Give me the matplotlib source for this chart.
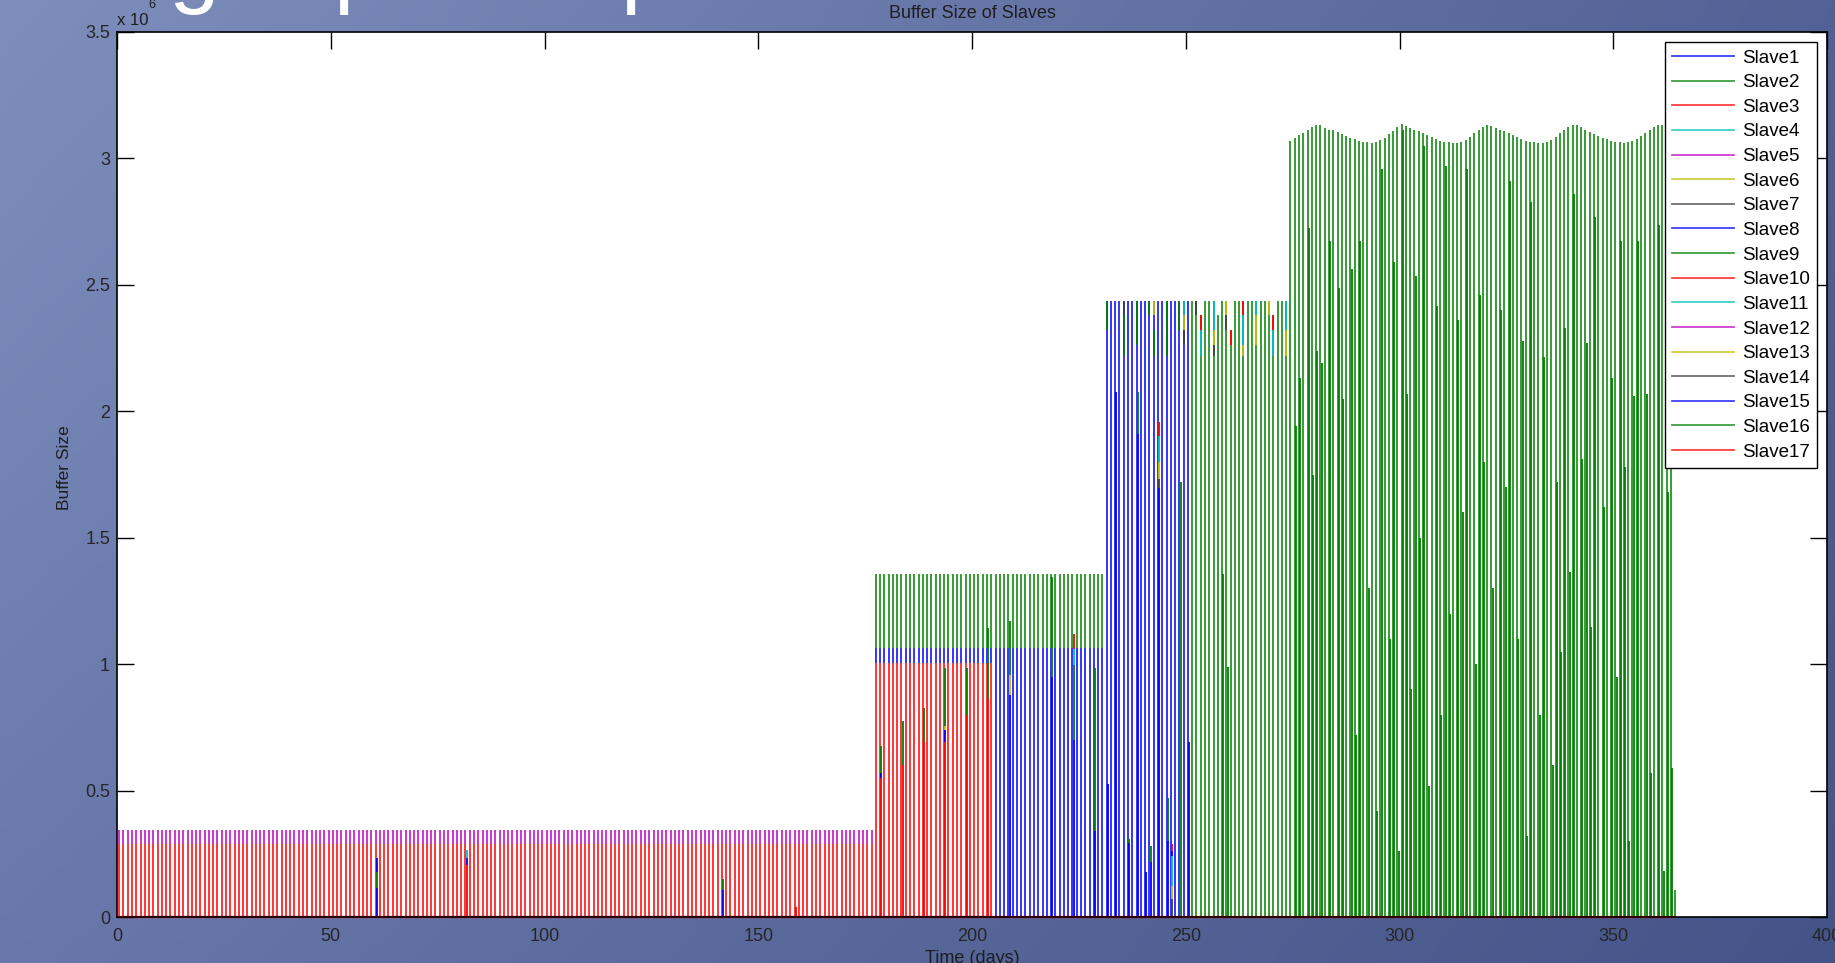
import matplotlib
matplotlib.use("Agg")
import matplotlib.pyplot as plt
from matplotlib.lines import Line2D
import numpy as np

plt.rcParams["font.family"] = ["Liberation Sans", "DejaVu Sans"]

# ---- data (buffer sizes in units of 1e6) ---------------------------------
SLAVES = [f"Slave{i}" for i in range(1, 18)]
# old MATLAB colour order b, g, r, c, m, y, k repeated
SLAVE_COLORS = ["#0000ff", "#008000", "#ff0000", "#00bfbf", "#bf00bf", "#bfbf00", "#404040",
                "#0000ff", "#008000", "#ff0000", "#00bfbf", "#bf00bf", "#bfbf00", "#404040",
                "#0000ff", "#008000", "#ff0000"]

# day ranges of the regimes and the stacked layers (slave, layer top) in each
PHASE_FIRST = [0, 177, 205, 231, 251]
PHASE_LAST = [176, 204, 230, 250, 273]
PHASE_LAYERS = [
    [(3, 0.290), (5, 0.345)],
    [(3, 1.005), (8, 1.065), (9, 1.355)],
    [(8, 1.065), (9, 1.355)],
    [(8, 2.435)],
    [(9, 2.435)],
]

# last regime: one green slave, daily peaks (days 274..363)
WAVE_FIRST = 274
WAVE_SLAVE = 16
WAVE_TOPS = [
    3.070, 3.080, 3.092, 3.102, 3.114, 3.126, 3.134,
    3.132, 3.122, 3.114, 3.112, 3.105, 3.098, 3.088, 3.082, 3.075, 3.070,
    3.066, 3.063, 3.062, 3.066, 3.072, 3.082, 3.096, 3.110, 3.126, 3.138,
    3.130, 3.122, 3.114, 3.108, 3.100, 3.092, 3.084, 3.076, 3.070, 3.066,
    3.064, 3.062, 3.062, 3.066, 3.074, 3.086, 3.100, 3.114, 3.126, 3.134,
    3.130, 3.122, 3.114, 3.108, 3.100, 3.092, 3.084, 3.076, 3.070, 3.066,
    3.064, 3.062, 3.062, 3.066, 3.074, 3.086, 3.100, 3.114, 3.126, 3.134,
    3.132, 3.124, 3.114, 3.106, 3.098, 3.090, 3.082, 3.076, 3.070, 3.066,
    3.064, 3.062, 3.064, 3.068, 3.076, 3.088, 3.100, 3.114, 3.126, 3.134,
    3.134, 3.126, 3.118,
]
LAST_DAY = 364
LAST_DAY_TOP = 0.105

# days whose bar stops short of the regime level
SHORT_DAYS = [253, 257, 260, 270]
SHORT_TOPS = [2.380, 2.380, 2.321, 2.380]

# coloured pieces at the top of the 2.4e6 bars
SEG_DAYS = [231, 235, 235, 238, 241, 242, 242, 245, 248, 249, 249, 249, 252, 253, 253,
            256, 256, 256, 259, 259, 260, 263, 263, 263, 266, 266, 269, 270, 270, 273, 273]
SEG_SLAVES = [9, 14, 9, 9, 9, 13, 9, 9, 9, 11, 13, 14, 14, 17, 11,
              11, 13, 14, 13, 14, 17, 17, 11, 13, 11, 13, 13, 17, 11, 11, 13]
SEG_BOTTOMS = [2.321, 2.380, 2.218, 2.262, 2.380, 2.380, 2.218, 2.218, 2.321, 2.380, 2.321,
               2.262, 2.380, 2.321, 2.218, 2.321, 2.262, 2.218, 2.380, 2.321, 2.262, 2.380,
               2.262, 2.218, 2.380, 2.262, 2.380, 2.321, 2.218, 2.321, 2.218]
SEG_TOPS = [2.435, 2.435, 2.380, 2.435, 2.435, 2.435, 2.321, 2.435, 2.435, 2.435, 2.380,
            2.321, 2.435, 2.380, 2.321, 2.435, 2.321, 2.262, 2.435, 2.380, 2.321, 2.435,
            2.380, 2.262, 2.435, 2.380, 2.435, 2.380, 2.321, 2.435, 2.321]

# second (darker) spikes next to the daily bar, stacked from zero
EXTRA_DAYS = [60, 81, 141, 158, 178, 183, 188, 193, 198, 203, 208, 218, 223, 228,
              231, 233, 236, 238, 240, 241, 243, 245, 246, 248, 250, 258, 259]
EXTRA_STACKS = [
    [(8, 0.115), (9, 0.179), (15, 0.233)],
    [(3, 0.207), (8, 0.233), (11, 0.265)],
    [(8, 0.107), (9, 0.150)],
    [(3, 0.040)],
    [(3, 0.550), (8, 0.568), (9, 0.676)],
    [(3, 0.600), (9, 0.777)],
    [(3, 0.694), (9, 0.826)],
    [(3, 0.694), (8, 0.741), (13, 0.754), (16, 0.984)],
    [(3, 0.800), (9, 0.984)],
    [(3, 0.862), (9, 1.142)],
    [(8, 0.878), (13, 0.957), (16, 1.172)],
    [(8, 0.950), (9, 1.344)],
    [(8, 0.699), (9, 0.995), (11, 1.060), (17, 1.120)],
    [(8, 0.339), (9, 0.984)],
    [(8, 0.526)],
    [(8, 2.077)],
    [(8, 0.291), (9, 0.310)],
    [(8, 1.912), (9, 2.077)],
    [(8, 0.177)],
    [(8, 0.219), (9, 0.281)],
    [(8, 1.695), (14, 1.732), (13, 1.800), (11, 1.902), (17, 1.958)],
    [(8, 0.301), (9, 0.472)],
    [(7, 0.070), (13, 0.122), (11, 0.240), (8, 0.260), (10, 0.290)],
    [(9, 1.720)],
    [(8, 0.693)],
    [(9, 1.356)],
    [(9, 0.987)],
]

# darker green spikes in the last regime
DARK_DAYS = [275, 276, 278, 279, 280, 281, 283, 285, 286, 288,
             289, 290, 292, 294, 295, 297, 298, 299, 300, 301,
             302, 303, 304, 305, 306, 308, 309, 310, 311, 313,
             314, 315, 317, 318, 319, 321, 323, 324, 325, 327,
             328, 329, 330, 332, 333, 335, 336, 337, 338, 339,
             340, 342, 343, 344, 345, 347, 349, 350, 351, 352,
             353, 354, 355, 357, 358, 360, 361, 362, 363]
DARK_TOPS = [1.940, 2.130, 2.723, 1.748, 2.238, 2.190, 2.673, 2.486, 2.050, 2.562,
             0.720, 2.673, 1.300, 0.420, 2.958, 1.100, 2.591, 0.260, 3.114, 2.070,
             0.900, 2.536, 1.500, 3.049, 0.520, 2.416, 0.800, 2.972, 1.200, 2.360,
             1.600, 2.958, 1.000, 2.460, 1.800, 1.300, 2.400, 1.700, 2.911, 1.100,
             2.279, 0.320, 2.826, 0.800, 2.213, 0.600, 1.720, 1.049, 2.328, 1.365,
             2.860, 1.810, 2.272, 1.148, 2.770, 1.620, 2.130, 0.950, 2.673, 1.780,
             0.300, 2.060, 2.673, 2.070, 0.570, 2.735, 0.180, 1.680, 0.590]

X_TICKS = [0, 50, 100, 150, 200, 250, 300, 350, 400]
Y_TICKS = [0, 0.5, 1, 1.5, 2, 2.5, 3, 3.5]
Y_TICK_LABELS = ["0", "0.5", "1", "1.5", "2", "2.5", "3", "3.5"]

# ---- figure -----------------------------------------------------------------
W, H = 1835, 963
fig = plt.figure(figsize=(W / 100, H / 100), dpi=100)

# slide background: blue gradient, lighter top-left
bg = fig.add_axes([0, 0, 1, 1], zorder=-10)
gy, gx = np.mgrid[0:1:200j, 0:1:400j]
tl, tr = np.array([126, 142, 188]), np.array([82, 98, 150])
bl, br = np.array([104, 120, 170]), np.array([68, 84, 136])
grad = (tl * ((1 - gx) * (1 - gy))[..., None] + tr * (gx * (1 - gy))[..., None]
        + bl * ((1 - gx) * gy)[..., None] + br * (gx * gy)[..., None]) / 255.0
bg.imshow(grad, aspect="auto", extent=[0, 1, 0, 1], origin="upper")
bg.axis("off")

ax = fig.add_axes([117 / W, 46 / H, 1710 / W, 885 / H])
ax.set_facecolor("white")

LW = 1.3
ALPHA = 0.85
OFFSET = 0.5
SIDE = 0.3


def draw_stack(x, layers, cap=None):
    xs, lo, hi, cols = [], [], [], []
    bottom = 0.0
    for slave, top in layers:
        if cap is not None:
            top = min(top, cap)
        if top > bottom:
            xs.append(x)
            lo.append(bottom)
            hi.append(top)
            cols.append(SLAVE_COLORS[slave - 1])
            bottom = top
    return xs, lo, hi, cols


short = dict(zip(SHORT_DAYS, SHORT_TOPS))
px, plo, phi, pcol = [], [], [], []
for first, last, layers in zip(PHASE_FIRST, PHASE_LAST, PHASE_LAYERS):
    for day in range(first, last + 1):
        a, b, c, d = draw_stack(day + OFFSET, layers, short.get(day))
        px += a; plo += b; phi += c; pcol += d
for i, top in enumerate(WAVE_TOPS):
    px.append(WAVE_FIRST + i + OFFSET); plo.append(0); phi.append(top)
    pcol.append(SLAVE_COLORS[WAVE_SLAVE - 1])
px.append(LAST_DAY + OFFSET); plo.append(0); phi.append(LAST_DAY_TOP)
pcol.append(SLAVE_COLORS[WAVE_SLAVE - 1])
ax.vlines(px, plo, phi, colors=pcol, linewidth=LW, alpha=ALPHA, zorder=3)

ax.vlines([d + OFFSET for d in SEG_DAYS], SEG_BOTTOMS, SEG_TOPS,
          colors=[SLAVE_COLORS[s - 1] for s in SEG_SLAVES], linewidth=LW, zorder=3)

ex, elo, ehi, ecol = [], [], [], []
for day, stack in zip(EXTRA_DAYS, EXTRA_STACKS):
    a, b, c, d = draw_stack(day + OFFSET + SIDE, stack)
    ex += a; elo += b; ehi += c; ecol += d
ax.vlines(ex, elo, ehi, colors=ecol, linewidth=LW, zorder=3)
ax.vlines([d + OFFSET + SIDE for d in DARK_DAYS], 0, DARK_TOPS,
          colors=SLAVE_COLORS[WAVE_SLAVE - 1], linewidth=LW, zorder=3)

# slave 17 sits on zero along the whole run
ax.plot([0, LAST_DAY + OFFSET], [0, 0], color=SLAVE_COLORS[16], linewidth=1.6,
        solid_capstyle="butt", clip_on=False, zorder=3.2)

ax.set_xlim(0, 400)
ax.set_ylim(0, 3.5)
ax.set_xticks(X_TICKS)
ax.set_xticklabels([str(t) for t in X_TICKS])
ax.set_yticks(Y_TICKS)
ax.set_yticklabels(Y_TICK_LABELS)
ax.tick_params(which="both", direction="in", top=True, right=True,
               length=12, width=1.0, labelsize=13, labelcolor="#262626")
ax.tick_params(axis="x", pad=8, bottom=False)
ax.tick_params(axis="y", pad=5)
for sp in ax.spines.values():
    sp.set_linewidth(1.2)
    sp.set_color("black")
    sp.set_zorder(4)

ax.set_title("Buffer Size of Slaves", fontsize=13, pad=10, color="#1e1e1e")
fig.text(972 / W, 1 - 950 / H, "Time (days)", ha="center", va="top",
         fontsize=13, color="#1e1e1e")
fig.text(64 / W, 1 - 468 / H, "Buffer Size", ha="center", va="center",
         rotation=90, fontsize=12.5, color="#1e1e1e")
fig.text(117 / W, 1 - 25 / H, "x 10", ha="left", va="baseline",
         fontsize=12, color="#1e1e1e")
fig.text(148 / W, 1 - 8 / H, "6", ha="left", va="baseline",
         fontsize=9, color="#1e1e1e")

# bottom of the slide heading that sits above the chart
for x_px, ch in [(168, "g"), (333, "p"), (620, "p")]:
    fig.text(x_px / W, 1 + 4 / H, ch, ha="left", va="baseline",
             fontsize=66, color="white")

handles = [Line2D([], [], color=c, linewidth=1.3, alpha=0.75) for c in SLAVE_COLORS]
leg = ax.legend(handles, SLAVES, loc="upper right",
                bbox_to_anchor=((1817 - 117) / 1710, (917 - 42) / 885),
                borderaxespad=0, fontsize=13.5, frameon=True, fancybox=False,
                framealpha=1, edgecolor="black", handlelength=3.3,
                handletextpad=0.4, labelspacing=0.40, borderpad=0.4)
leg.get_frame().set_linewidth(1.0)
leg.set_zorder(5)

fig.savefig("out.png", dpi=100)
